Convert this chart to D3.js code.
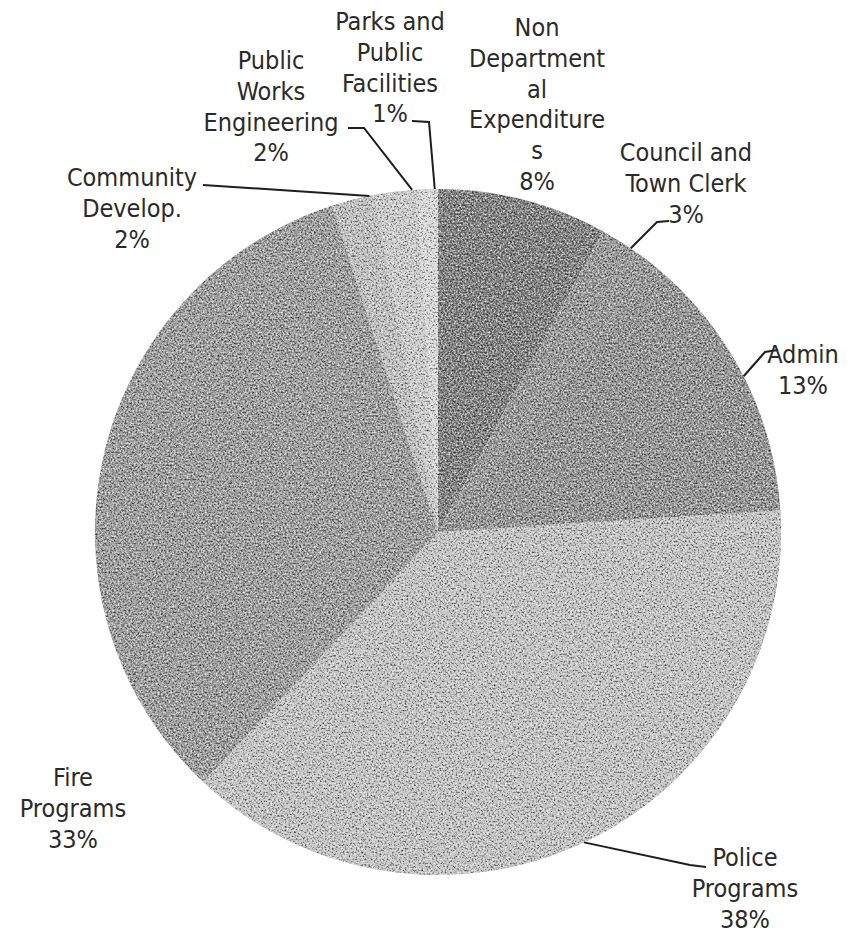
<!DOCTYPE html>
<html>
<head>
<meta charset="utf-8">
<script src="https://cdn.jsdelivr.net/npm/d3@7"></script>
<style>
  html, body { margin: 0; padding: 0; background: #fff; }
  svg { display: block; }
  .lbl { font-family: "DejaVu Sans Condensed", "DejaVu Sans", sans-serif; font-stretch: condensed; font-size: 25px; fill: #2a2a2a; }
</style>
</head>
<body>
<svg id="chart" width="863" height="934"></svg>
<script>
// Budget share by department, clockwise from 12 o'clock
const categories = [
  "Non Departmental Expenditures",
  "Council and Town Clerk",
  "Admin",
  "Police Programs",
  "Fire Programs",
  "Community Develop.",
  "Public Works Engineering",
  "Parks and Public Facilities"
];
const values = [8, 3, 13, 38, 33, 2, 2, 1];
// wrapped label text (name lines; the percent line is added from values)
const labelLines = [
  ["Non", "Department", "al", "Expenditure", "s"],
  ["Council and", "Town Clerk"],
  ["Admin"],
  ["Police", "Programs"],
  ["Fire", "Programs"],
  ["Community", "Develop."],
  ["Public", "Works", "Engineering"],
  ["Parks and", "Public", "Facilities"]
];
const fills = ["#767676", "#8f8f8f", "#8b8b8b", "#bdbdbd", "#949494", "#b9b9b9", "#c6c6c6", "#d4d4d4"];

const W = 863, H = 934;
const cx = 438, cy = 532, R = 343;
const lineH = 30.8;

// label layout: centre x, centre y of first line, where along the slice the leader
// touches the rim (0..1), and leader elbow/end (null = no leader)
const layout = [
  { x: 537, y: 27,  at: 0.5,  leader: null },
  { x: 686, y: 152, at: 0.5,  leader: [[657, 222], [669, 221]] },
  { x: 803, y: 354, at: 0.5,  leader: [[765, 352], [778, 350]] },
  { x: 745, y: 857, at: 0.5,  leader: [[690, 865], [706, 867]] },
  { x: 73,  y: 777, at: 0.5,  leader: null },
  { x: 132, y: 177, at: 0.9,  leader: [[203, 185], [203, 185]] },
  { x: 271, y: 60,  at: 0.9,  leader: [[364, 128], [348, 128]] },
  { x: 390, y: 21,  at: 0.85, leader: [[429, 122], [412, 121]] }
];

const svg = d3.select("#chart");
const defs = svg.append("defs");

// light paper-scan speckle applied to the pie fill
const f = defs.append("filter").attr("id", "grain")
  .attr("x", 0).attr("y", 0).attr("width", 1).attr("height", 1)
  .attr("color-interpolation-filters", "sRGB");
f.append("feTurbulence").attr("type", "fractalNoise").attr("baseFrequency", 0.55)
  .attr("numOctaves", 2).attr("seed", 7).attr("result", "noise");
f.append("feColorMatrix").attr("in", "noise").attr("type", "matrix")
  .attr("values", "1 0 0 0 0  1 0 0 0 0  1 0 0 0 0  0 0 0 0 1").attr("result", "gray");
const ct = f.append("feComponentTransfer").attr("in", "gray").attr("result", "contrast");
["feFuncR", "feFuncG", "feFuncB"].forEach(n => ct.append(n).attr("type", "linear").attr("slope", 1.1).attr("intercept", 0.0));
f.append("feBlend").attr("in", "SourceGraphic").attr("in2", "contrast").attr("mode", "overlay").attr("result", "blend");
f.append("feComposite").attr("in", "blend").attr("in2", "SourceGraphic").attr("operator", "in");

const pie = d3.pie().sort(null).value(d => d).startAngle(0).endAngle(2 * Math.PI);
const arcs = pie(values);
const arc = d3.arc().innerRadius(0).outerRadius(R);

const g = svg.append("g").attr("transform", `translate(${cx},${cy})`).attr("filter", "url(#grain)");
g.selectAll("path").data(arcs).join("path")
  .attr("d", arc)
  .attr("fill", (d, i) => fills[i]);

// leader lines from the slice rim to the label
const lines = svg.append("g").attr("fill", "none").attr("stroke", "#1e1e1e").attr("stroke-width", 2);
arcs.forEach((d, i) => {
  const L = layout[i].leader;
  if (!L) return;
  const a = d.startAngle + (d.endAngle - d.startAngle) * layout[i].at;
  const p0 = [cx + R * Math.sin(a), cy - R * Math.cos(a)];
  lines.append("path").attr("d", d3.line()([p0, L[0], L[1]]));
});

// labels
const lbl = svg.append("g").attr("class", "lbl").attr("text-anchor", "middle");
arcs.forEach((d, i) => {
  const rows = labelLines[i].concat([`${values[i]}%`]);
  const t = lbl.append("text");
  rows.forEach((r, k) => {
    t.append("tspan").attr("x", layout[i].x).attr("y", layout[i].y + k * lineH).attr("dy", "0.36em").text(r);
  });
});
</script>
</body>
</html>
